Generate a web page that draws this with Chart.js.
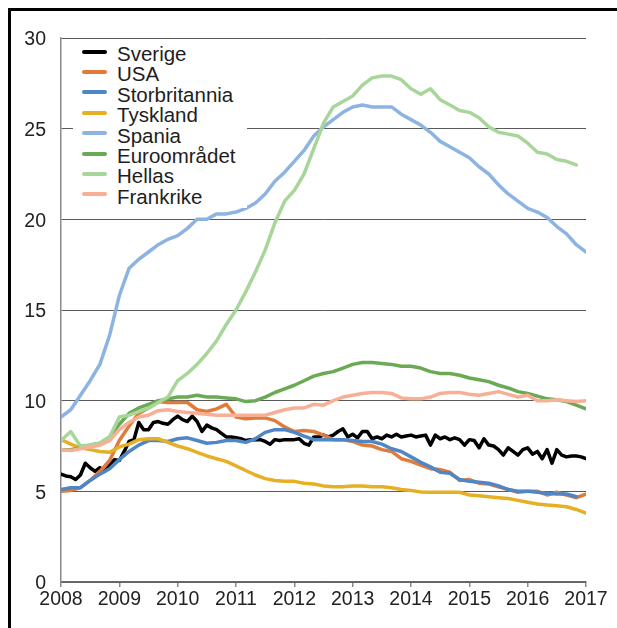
<!DOCTYPE html>
<html>
<head>
<meta charset="utf-8">
<script src="https://cdn.jsdelivr.net/npm/chart.js@4.4.1/dist/chart.umd.min.js"></script>
<style>
  body { margin: 0; background: #fff; }
  #wrap { position: relative; width: 617px; height: 628px; overflow: hidden; font-family: 'Liberation Sans', Arial, sans-serif; }
  #frame { position: absolute; left: 8px; top: 8px; right: -10px; bottom: -10px; border-left: 3px solid #000; border-top: 3px solid #000; pointer-events: none; }
  #myChart { position: absolute; left: 0; top: 0; }
  #legend { position: absolute; left: 73px; top: 42px; width: 174px; height: 166px; background: #fff; }
  .item { position: absolute; left: 0; height: 20.4px; line-height: 20.4px; font-size: 20.5px; color: #1e1e1e; white-space: nowrap; }
  .item .swatch { position: absolute; left: 9px; width: 25px; height: 4px; border-radius: 2px; }
  .item .txt { position: absolute; left: 44px; top: 0; }
</style>
</head>
<body>
<div id="wrap">
  <canvas id="myChart" width="617" height="628"></canvas>
  <div id="legend"></div>
  <div id="frame"></div>
</div>
<script>
// Series names (legend order)
const seriesNames = ['Sverige', 'USA', 'Storbritannia', 'Tyskland', 'Spania', 'Euroområdet', 'Hellas', 'Frankrike'];
const seriesColors = ['#000000', '#E07B3A', '#4F86C6', '#E5B024', '#8DB3E2', '#6AAA55', '#A8D69A', '#F7B095'];

// x tick labels
const yearLabels = ['2008', '2009', '2010', '2011', '2012', '2013', '2014', '2015', '2016', '2017'];

// Sverige: monthly values, Jan 2008 onwards
const sverige = [5.95, 5.85, 5.8, 5.65, 5.9, 6.55, 6.3, 6.1, 6.3, 6.1, 6.45, 6.75,
  6.7, 7.2, 7.75, 7.85, 8.8, 8.4, 8.4, 8.8, 8.85, 8.75, 8.7, 8.95,
  9.15, 8.95, 8.85, 9.15, 8.85, 8.3, 8.65, 8.5, 8.4, 8.2, 8.0, 8.0,
  7.95, 7.9, 7.8, 7.85, 7.85, 7.85, 7.75, 7.6, 7.85, 7.8, 7.85, 7.85,
  7.85, 7.9, 7.65, 7.55, 8.0, 8.0, 8.1, 8.0, 8.1, 8.3, 8.45, 8.0,
  8.15, 7.95, 8.3, 8.3, 7.9, 8.0, 7.9, 8.1, 8.0, 8.15, 8.0, 8.05,
  8.1, 8.0, 8.05, 8.1, 7.55, 8.1, 7.9, 8.0, 7.85, 7.95, 7.85, 7.55,
  7.85, 7.8, 7.4, 7.9, 7.55, 7.5, 7.3, 7.0, 7.4, 7.2, 7.0, 7.3,
  7.4, 7.05, 7.2, 6.8, 7.3, 6.55, 7.3, 7.0, 6.9, 6.95, 6.95, 6.9,
  6.8];

// Other series: every second month, Jan 2008 onwards
const usa = [5.0, 5.05, 5.2, 5.6, 6.1, 6.7, 7.8, 8.6, 9.3, 9.6, 9.95, 9.9,
  9.9, 9.9, 9.5, 9.4, 9.55, 9.8, 9.1, 9.0, 9.05, 9.05, 8.9, 8.55,
  8.3, 8.35, 8.3, 8.1, 7.85, 7.85, 7.75, 7.55, 7.5, 7.3, 7.2, 6.8,
  6.65, 6.45, 6.25, 6.2, 6.05, 5.6, 5.65, 5.45, 5.4, 5.25, 5.1, 4.95,
  5.0, 5.0, 4.8, 4.95, 4.8, 4.65, 4.85];
const storbritannia = [5.1, 5.2, 5.2, 5.6, 5.95, 6.25, 6.75, 7.2, 7.55, 7.8, 7.8, 7.75,
  7.9, 7.95, 7.8, 7.65, 7.7, 7.8, 7.8, 7.7, 7.9, 8.25, 8.4, 8.4,
  8.25, 8.05, 7.85, 7.85, 7.85, 7.85, 7.8, 7.75, 7.75, 7.6, 7.35, 7.2,
  6.9, 6.6, 6.35, 6.05, 6.0, 5.65, 5.55, 5.5, 5.45, 5.3, 5.1, 5.0,
  5.0, 4.95, 4.9, 4.85, 4.85, 4.7];
const tyskland = [7.85, 7.6, 7.4, 7.3, 7.2, 7.15, 7.45, 7.6, 7.85, 7.9, 7.9, 7.7,
  7.5, 7.35, 7.15, 6.95, 6.8, 6.65, 6.4, 6.15, 5.9, 5.7, 5.6, 5.55,
  5.55, 5.45, 5.4, 5.3, 5.25, 5.25, 5.3, 5.3, 5.25, 5.25, 5.2, 5.1,
  5.05, 4.97, 4.95, 4.95, 4.95, 4.95, 4.8, 4.75, 4.7, 4.65, 4.6, 4.5,
  4.4, 4.3, 4.25, 4.2, 4.15, 4.0, 3.8];
const spania = [9.1, 9.5, 10.3, 11.1, 12.0, 13.6, 15.8, 17.3, 17.8, 18.2, 18.6, 18.9,
  19.1, 19.5, 20.0, 20.0, 20.3, 20.3, 20.4, 20.6, 20.9, 21.4, 22.1, 22.6,
  23.2, 23.8, 24.6, 25.1, 25.5, 25.9, 26.2, 26.3, 26.2, 26.2, 26.2, 25.8,
  25.5, 25.2, 24.8, 24.3, 24.0, 23.7, 23.4, 22.9, 22.5, 21.9, 21.4, 21.0,
  20.6, 20.4, 20.1, 19.6, 19.2, 18.6, 18.2];
const euroomradet = [7.3, 7.3, 7.4, 7.55, 7.65, 8.0, 8.7, 9.3, 9.6, 9.8, 10.0, 10.1,
  10.2, 10.2, 10.3, 10.2, 10.2, 10.15, 10.1, 9.95, 10.0, 10.2, 10.45, 10.65,
  10.85, 11.1, 11.35, 11.5, 11.6, 11.8, 12.0, 12.1, 12.1, 12.05, 12.0, 11.9,
  11.9, 11.8, 11.6, 11.5, 11.5, 11.4, 11.25, 11.15, 11.05, 10.85, 10.7, 10.5,
  10.4, 10.25, 10.1, 10.05, 9.95, 9.75, 9.55];
const hellas = [7.8, 8.3, 7.5, 7.55, 7.65, 8.0, 9.1, 9.2, 9.4, 9.6, 9.9, 10.2,
  11.1, 11.5, 12.0, 12.6, 13.3, 14.2, 15.0, 16.0, 17.1, 18.3, 19.8, 21.0,
  21.6, 22.5, 23.9, 25.3, 26.2, 26.5, 26.8, 27.4, 27.8, 27.9, 27.9, 27.7,
  27.2, 26.9, 27.2, 26.6, 26.3, 26.0, 25.9, 25.6, 25.1, 24.8, 24.7, 24.6,
  24.2, 23.7, 23.6, 23.3, 23.2, 23.0];
const frankrike = [7.3, 7.25, 7.35, 7.45, 7.55, 7.8, 8.4, 8.8, 9.1, 9.2, 9.45, 9.5,
  9.4, 9.35, 9.3, 9.25, 9.2, 9.2, 9.2, 9.2, 9.2, 9.2, 9.35, 9.5,
  9.6, 9.6, 9.8, 9.75, 10.0, 10.2, 10.3, 10.4, 10.45, 10.45, 10.4, 10.15,
  10.1, 10.1, 10.2, 10.4, 10.45, 10.45, 10.35, 10.3, 10.4, 10.5, 10.35, 10.2,
  10.3, 10.0, 10.0, 10.05, 10.0, 9.95, 10.0];

const seriesValues = [sverige, usa, storbritannia, tyskland, spania, euroomradet, hellas, frankrike];
const seriesStep = [1, 2, 2, 2, 2, 2, 2, 2]; // months between points

// Turn a value list into {x: year, y: value} points
function toPoints(values, step) {
    return values.map((v, i) => ({ x: 2008 + (i * step) / 12, y: v }));
}

const ctx = document.getElementById('myChart').getContext('2d');
const tickFont = { family: "'Liberation Sans', Arial, sans-serif", size: 19.5 };

const datasets = seriesNames.map((name, i) => ({
    label: name,
    data: toPoints(seriesValues[i], seriesStep[i]),
    borderColor: seriesColors[i],
    backgroundColor: seriesColors[i],
    borderWidth: 3.5,
    pointRadius: 0,
    tension: 0,
    borderJoinStyle: 'round',
    borderCapStyle: 'round',
    order: seriesNames.length - i // later series drawn on top
}));

const myChart = new Chart(ctx, {
    type: 'line',
    data: { datasets: datasets },
    options: {
        responsive: false,
        animation: false,
        layout: {
            padding: { top: 38, right: 31, left: 0, bottom: 0 }
        },
        scales: {
            x: {
                type: 'linear',
                min: 2008,
                max: 2017,
                afterFit: (scale) => { scale.height = 46; },
                afterBuildTicks: (scale) => {
                    scale.ticks = yearLabels.map(y => ({ value: Number(y) }));
                },
                ticks: {
                    callback: (v) => String(v),
                    color: '#222',
                    font: tickFont,
                    padding: 1,
                    maxRotation: 0,
                    autoSkip: false
                },
                grid: {
                    drawOnChartArea: false,
                    drawTicks: true,
                    tickLength: 5,
                    color: '#8a8a8a',
                    lineWidth: 1.5
                },
                border: { color: '#6a6a6a', width: 1.5 }
            },
            y: {
                min: 0,
                max: 30,
                afterFit: (scale) => { scale.width = 61; },
                ticks: {
                    stepSize: 5,
                    color: '#222',
                    font: tickFont,
                    padding: 15,
                    labelOffset: 2
                },
                grid: {
                    drawTicks: false,
                    color: '#5a5a5a',
                    lineWidth: 1
                },
                border: { color: '#8a8a8a', width: 1.5 }
            }
        },
        plugins: {
            legend: { display: false },
            tooltip: { enabled: false }
        }
    }
});

// Build the legend box inside the plot
const legendBox = document.getElementById('legend');
seriesNames.forEach((name, i) => {
    const row = document.createElement('div');
    row.className = 'item';
    row.style.top = (2 + i * 20.4) + 'px';
    const sw = document.createElement('span');
    sw.className = 'swatch';
    sw.style.background = seriesColors[i];
    sw.style.top = '5.7px';
    const txt = document.createElement('span');
    txt.className = 'txt';
    txt.textContent = name;
    row.appendChild(sw);
    row.appendChild(txt);
    legendBox.appendChild(row);
});
</script>
</body>
</html>
